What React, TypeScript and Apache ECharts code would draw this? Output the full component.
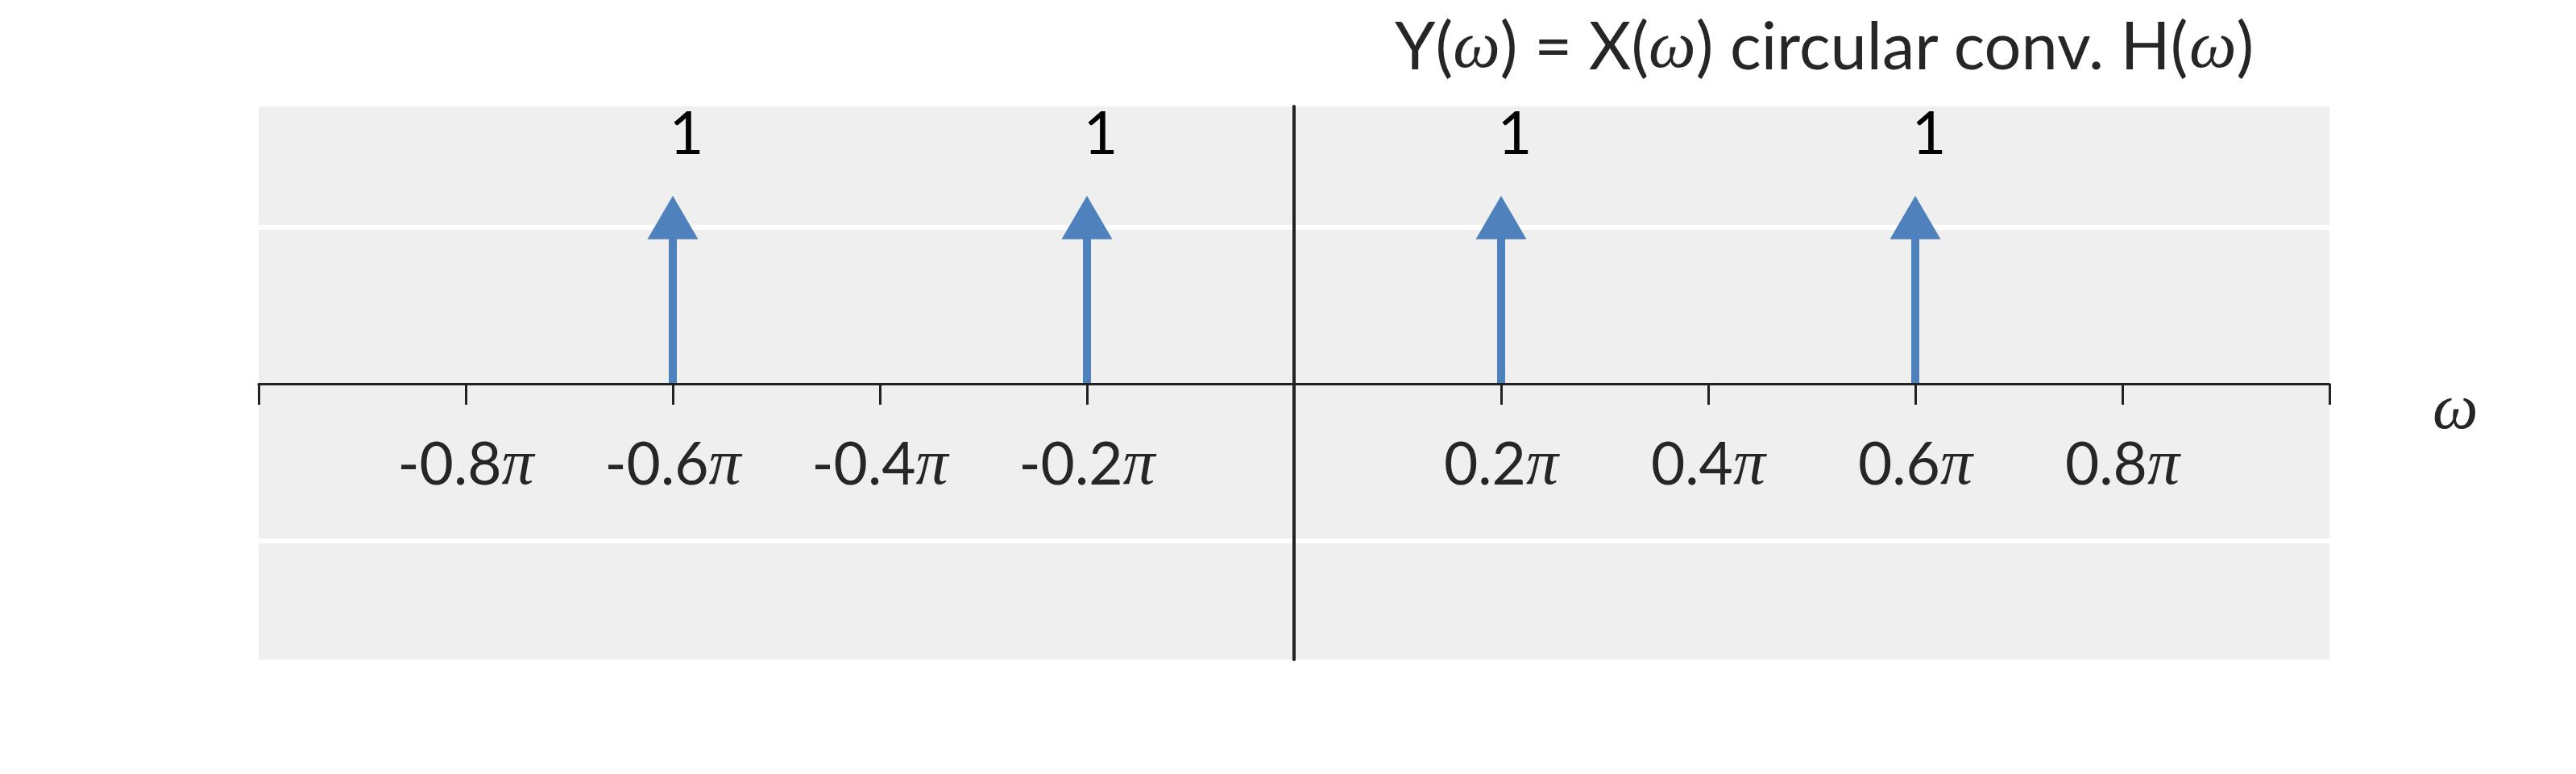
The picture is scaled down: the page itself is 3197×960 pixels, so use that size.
import React, { useEffect, useRef } from "react";
import * as echarts from "echarts";

// ---- data ----
const IMPULSE_POSITIONS = [-0.6, -0.2, 0.2, 0.6]; // in units of π
const IMPULSE_AMPLITUDES = [1, 1, 1, 1];
const TICK_VALUES = [-0.8, -0.6, -0.4, -0.2, 0.2, 0.4, 0.6, 0.8];
const TICK_COEFS = ["-0.8", "-0.6", "-0.4", "-0.2", "0.2", "0.4", "0.6", "0.8"];
const GRIDLINES = [1, -1];
const X_MIN = -1;
const X_MAX = 1;
const X_STEP = 0.2;
const Y_MIN = -1.76;
const Y_MAX = 1.77;

const TEXT_FONT = "Lato, 'Open Sans', sans-serif";
const MATH_FONT = "'Liberation Serif', 'DejaVu Serif', serif";
const TEXT_COLOR = "#262626";
const ARROW_COLOR = "#4f81bd";

const TIP_RATIO = 1.2;
const LABEL_RATIO = 1.615;

export default function App() {
  const ref = useRef<HTMLDivElement>(null);

  useEffect(() => {
    document.body.style.margin = "0";
    if (!ref.current) return;
    const chart = echarts.init(ref.current, undefined, { renderer: "svg" });

    const data = IMPULSE_POSITIONS.map((x, i) => [x, IMPULSE_AMPLITUDES[i]]);

    const option: any = {
      animation: false,
      backgroundColor: "#ffffff",
      title: {
        text: "{t|Y(}{w|ω}{t|) = X(}{w|ω}{t|) circular conv. H(}{w|ω}{t|)}",
        left: 1731,
        top: 13,
        padding: 0,
        textStyle: {
          fontWeight: "normal",
          rich: {
            t: {
              fontFamily: TEXT_FONT,
              fontSize: 81,
              fontWeight: "normal",
              color: TEXT_COLOR,
            },
            w: {
              fontFamily: MATH_FONT,
              fontStyle: "italic",
              fontWeight: "normal",
              fontSize: 83,
              color: TEXT_COLOR,
            },
          },
        },
      },
      grid: {
        left: 321,
        right: 306,
        top: 132,
        bottom: 142,
        show: true,
        backgroundColor: "#efefef",
        borderWidth: 0,
        containLabel: false,
      },
      xAxis: {
        type: "value",
        min: X_MIN,
        max: X_MAX,
        interval: X_STEP,
        z: 5,
        name: "ω",
        nameLocation: "end",
        nameGap: 128,
        nameTextStyle: {
          fontFamily: MATH_FONT,
          fontStyle: "italic",
          fontSize: 80,
          color: TEXT_COLOR,
          align: "left",
          verticalAlign: "top",
          lineHeight: 56,
        },
        axisLine: {
          show: true,
          onZero: true,
          lineStyle: { color: "#222222", width: 3 },
        },
        axisTick: {
          show: true,
          length: 26,
          inside: false,
          lineStyle: { color: "#222222", width: 3 },
        },
        splitLine: { show: false },
        axisLabel: {
          show: true,
          margin: -245,
          verticalAlign: "middle",
          formatter: (v: number) => {
            const r = Math.round(v * 10) / 10;
            const idx = TICK_VALUES.findIndex((t) => Math.abs(t - r) < 1e-6);
            if (idx < 0) return "";
            return `{n|${TICK_COEFS[idx]}}{p|π}`;
          },
          rich: {
            n: { fontFamily: TEXT_FONT, fontSize: 73, color: TEXT_COLOR },
            p: {
              fontFamily: MATH_FONT,
              fontStyle: "italic",
              fontSize: 80,
              color: TEXT_COLOR,
            },
          },
        },
      },
      yAxis: {
        type: "value",
        min: Y_MIN,
        max: Y_MAX,
        z: 5,
        axisLine: {
          show: true,
          onZero: true,
          lineStyle: { color: "#222222", width: 4 },
        },
        axisTick: { show: false },
        axisLabel: { show: false },
        splitLine: { show: false },
      },
      series: [
        {
          type: "line",
          data: [],
          silent: true,
          z: 1,
          markLine: {
            silent: true,
            z: 1,
            symbol: ["none", "none"],
            label: { show: false },
            lineStyle: { color: "#ffffff", width: 6, type: "solid" },
            data: GRIDLINES.map((g) => ({ yAxis: g })),
          },
        },
        {
          type: "custom",
          z: 3,
          data,
          renderItem: (params: any, api: any) => {
            const x = api.value(0);
            const a = api.value(1);
            const base = api.coord([x, 0]);
            const tip = api.coord([x, a * TIP_RATIO]);
            const lab = api.coord([x, a * LABEL_RATIO]);
            const headH = 54;
            const headHalf = 31.5;
            const stemW = 10;
            return {
              type: "group",
              children: [
                {
                  type: "rect",
                  shape: {
                    x: base[0] - stemW / 2,
                    y: tip[1] + headH - 1,
                    width: stemW,
                    height: base[1] - (tip[1] + headH - 1),
                  },
                  style: { fill: ARROW_COLOR },
                },
                {
                  type: "polygon",
                  shape: {
                    points: [
                      [tip[0], tip[1]],
                      [tip[0] - headHalf, tip[1] + headH],
                      [tip[0] + headHalf, tip[1] + headH],
                    ],
                  },
                  style: { fill: ARROW_COLOR },
                },
                {
                  type: "text",
                  x: lab[0] + 17,
                  y: lab[1],
                  style: {
                    text: String(a),
                    fontFamily: TEXT_FONT,
                    fontSize: 74,
                    fill: "#000000",
                    align: "center",
                    verticalAlign: "middle",
                  },
                },
              ],
            };
          },
        },
      ],
    };

    chart.setOption(option);
    return () => chart.dispose();
  }, []);

  return <div ref={ref} style={{ width: 3197, height: 960 }} />;
}
